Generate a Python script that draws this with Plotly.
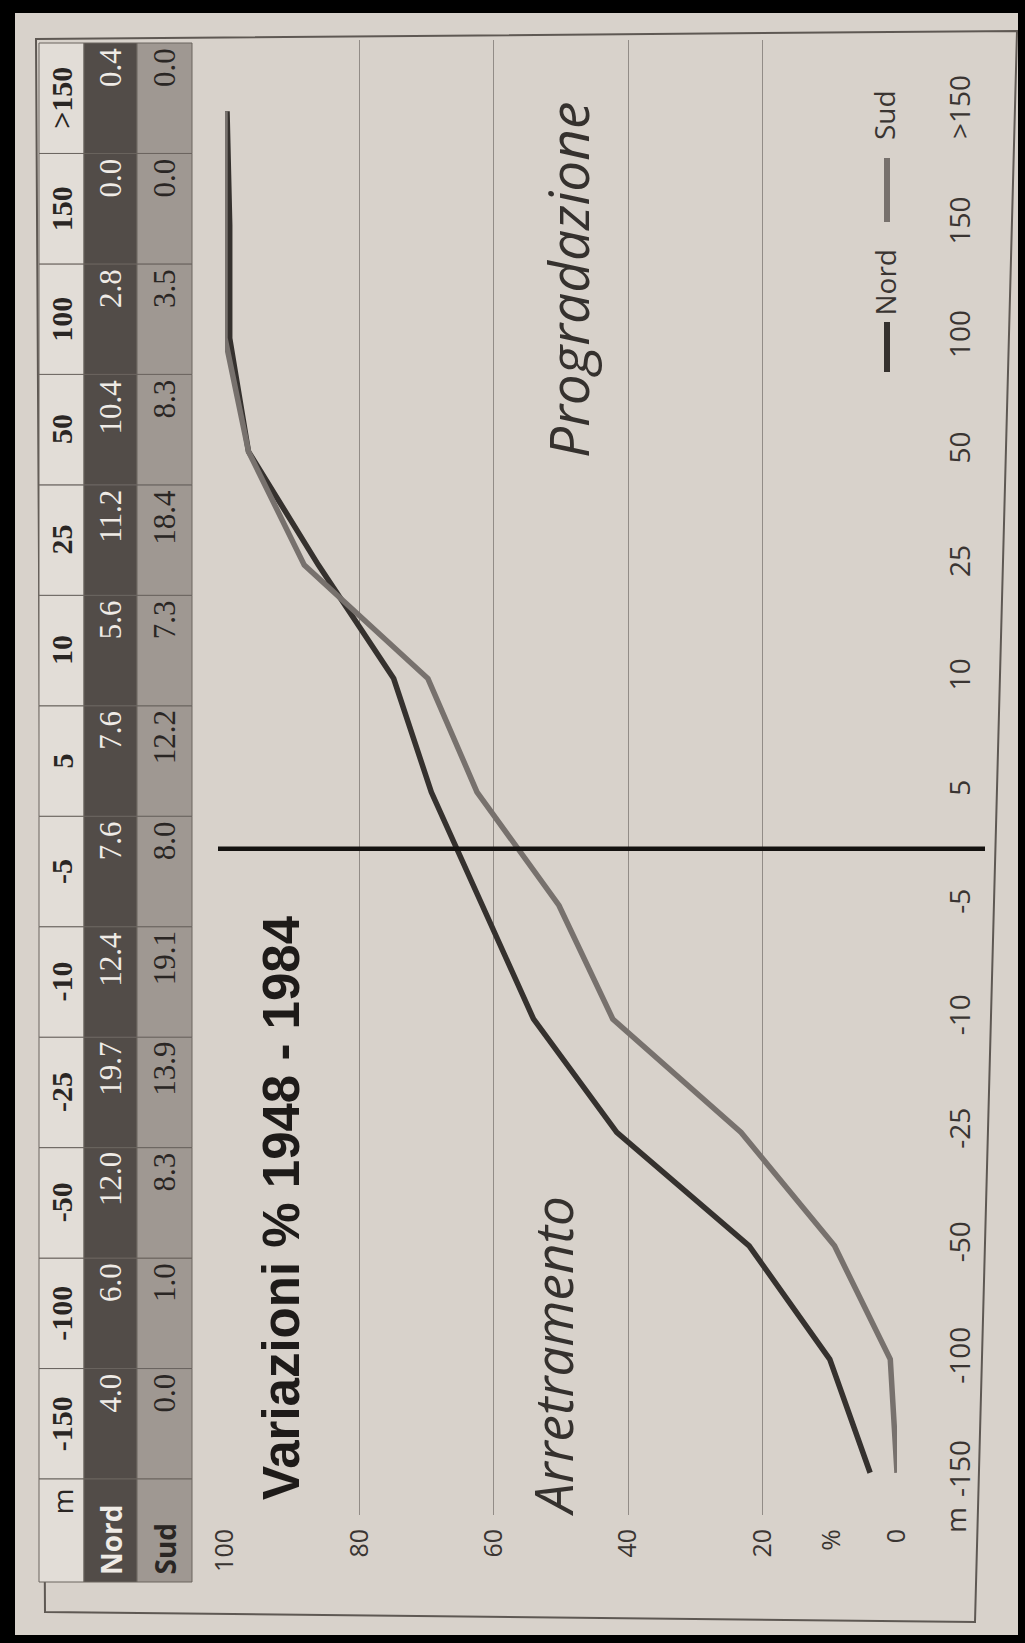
import plotly.graph_objects as go

# ---------------- data ----------------
categories = ["-150", "-100", "-50", "-25", "-10", "-5", "5", "10", "25", "50", "100", "150", ">150"]
nord_pct = [4.0, 6.0, 12.0, 19.7, 12.4, 7.6, 7.6, 5.6, 11.2, 10.4, 2.8, 0.0, 0.4]
sud_pct = [0.0, 1.0, 8.3, 13.9, 19.1, 8.0, 12.2, 7.3, 18.4, 8.3, 3.5, 0.0, 0.0]
nord_cum = [4.0, 10.0, 22.0, 41.7, 54.1, 61.7, 69.3, 74.9, 86.1, 96.5, 99.3, 99.3, 99.7]
sud_cum = [0.0, 1.0, 9.3, 23.2, 42.3, 50.3, 62.5, 69.8, 88.2, 96.5, 100.0, 100.0, 100.0]
value_ticks = [0, 20, 40, 60, 80, 100]
row_labels = ["m", "Nord", "Sud"]
series_names = ["Nord", "Sud"]
title_text = "Variazioni % 1948 - 1984"
left_label = "Arretramento"
right_label = "Progradazione"

# ---------------- geometry helpers (pixels -> paper) ----------------
W, H = 1025, 1643


def px(x):
    return x / W


def py(y):
    return 1 - y / H


PLOT_L, PLOT_R, PLOT_T, PLOT_B = 225, 897, 40, 1515
Y_SHIFT = 0.128  # photo perspective: categories sit a little lower than the grid box

PAPER = "#d8d2cb"
DARK = "#35312e"
GREY = "#77716d"
TXT = "#3a3532"
SANS = "Open Sans, Lato, sans-serif"
SERIF = "Liberation Serif, DejaVu Serif, serif"

fig = go.Figure()
fig.add_trace(go.Scatter(x=nord_cum, y=categories, mode="lines", name=series_names[0],
                         line=dict(color=DARK, width=5.5), showlegend=False))
fig.add_trace(go.Scatter(x=sud_cum, y=categories, mode="lines", name=series_names[1],
                         line=dict(color=GREY, width=5.5), showlegend=False))

shapes = []
annotations = []

# black photo frame
for (x0, x1, y0, y1) in [(0, W, 0, 13), (0, 15, 0, H), (W - 7, W, 0, H), (0, W, H - 8, H)]:
    shapes.append(dict(type="rect", xref="paper", yref="paper", x0=px(x0), x1=px(x1),
                       y0=py(y1), y1=py(y0), fillcolor="black", line=dict(width=0), layer="above"))

# outer chart box (slightly skewed like the photo)
corners = [(36, 39), (1017, 31), (975, 1622), (45, 1612)]
path = "M " + " L ".join(f"{px(x):.5f},{py(y):.5f}" for x, y in corners) + " Z"
shapes.append(dict(type="path", xref="paper", yref="paper", path=path,
                   line=dict(color="#5e5853", width=2), layer="below"))

# ---------------- data table ----------------
rows_x = [(39, 84), (84, 137), (137, 192)]
row_fill = ["#e2ddd7", "#524c48", "#9f9892"]
row_txt = ["#2a2624", "#efebe6", "#2a2624"]
T_TOP, T_VAL_BOT, T_BOT = 43, 1479, 1582
n = len(categories)
cell_h = (T_VAL_BOT - T_TOP) / n
rows_vals = [categories, [f"{v:.1f}" for v in nord_pct], [f"{v:.1f}" for v in sud_pct]]

for r, (x0, x1) in enumerate(rows_x):
    for i in range(n):
        top = T_TOP + (n - 1 - i) * cell_h
        shapes.append(dict(type="rect", xref="paper", yref="paper",
                           x0=px(x0), x1=px(x1), y0=py(top + cell_h), y1=py(top),
                           fillcolor=row_fill[r], line=dict(color="#6a645f", width=1), layer="below"))
        if r == 0:
            annotations.append(dict(xref="paper", yref="paper", x=px((x0 + x1) / 2),
                                    y=py(top + cell_h / 2), text=rows_vals[r][i], showarrow=False,
                                    textangle=-90, xanchor="center", yanchor="middle",
                                    font=dict(family=SERIF, size=30, color=row_txt[r], weight="bold")))
        else:
            annotations.append(dict(xref="paper", yref="paper", x=px((x0 + x1) / 2),
                                    y=py(top + 3), text=rows_vals[r][i], showarrow=False,
                                    textangle=-90, xanchor="center", yanchor="top",
                                    font=dict(family=SERIF, size=31, color=row_txt[r])))
    shapes.append(dict(type="rect", xref="paper", yref="paper",
                       x0=px(x0), x1=px(x1), y0=py(T_BOT), y1=py(T_VAL_BOT),
                       fillcolor=row_fill[r], line=dict(color="#6a645f", width=1), layer="below"))
    if r == 0:
        annotations.append(dict(xref="paper", yref="paper", x=px((x0 + x1) / 2), y=py(T_VAL_BOT + 8),
                                text=row_labels[r], showarrow=False, textangle=-90,
                                xanchor="center", yanchor="top",
                                font=dict(family=SANS, size=28, color=row_txt[r])))
    else:
        annotations.append(dict(xref="paper", yref="paper", x=px((x0 + x1) / 2), y=py(T_BOT - 5),
                                text=row_labels[r], showarrow=False, textangle=-90,
                                xanchor="center", yanchor="bottom",
                                font=dict(family=SANS, size=28, color=row_txt[r], weight="bold")))

# ---------------- zero line between -5 and 5 ----------------
shapes.append(dict(type="line", xref="paper", yref="y", x0=px(218), x1=px(985),
                   y0=5.5, y1=5.5, line=dict(color="#141210", width=4.5), layer="above"))

# ---------------- texts ----------------
annotations.append(dict(xref="paper", yref="paper", x=px(281), y=py(1208), text=title_text,
                        showarrow=False, textangle=-90, xanchor="center", yanchor="middle",
                        font=dict(family="Liberation Sans, Arial, sans-serif", size=51,
                                  color="#1e1b19", weight="bold")))
annotations.append(dict(xref="paper", yref="paper", x=px(552), y=py(1356), text=left_label,
                        showarrow=False, textangle=-90, xanchor="center", yanchor="middle",
                        font=dict(family=SANS, size=53, color="#35312e", style="italic")))
annotations.append(dict(xref="paper", yref="paper", x=px(567), y=py(280), text=right_label,
                        showarrow=False, textangle=-90, xanchor="center", yanchor="middle",
                        font=dict(family=SANS, size=55, color="#35312e", style="italic")))
# axis unit labels
annotations.append(dict(xref="x", yref="paper", x=10, y=py(1540), text="%", showarrow=False,
                        textangle=-90, xanchor="center", yanchor="middle",
                        font=dict(family=SANS, size=26, color=TXT)))
annotations.append(dict(xref="paper", yref="paper", x=px(955), y=py(1520), text="m", showarrow=False,
                        textangle=-90, xanchor="center", yanchor="middle",
                        font=dict(family=SANS, size=28, color=TXT)))

# ---------------- manual legend ----------------
LEG_X = 887
for name, color, (d0, d1), tb in [(series_names[0], DARK, (322, 372), 318),
                                   (series_names[1], GREY, (158, 222), 142)]:
    shapes.append(dict(type="line", xref="paper", yref="paper", x0=px(LEG_X), x1=px(LEG_X),
                       y0=py(d0), y1=py(d1), line=dict(color=color, width=6)))
    annotations.append(dict(xref="paper", yref="paper", x=px(LEG_X - 3), y=py(tb), text=name,
                            showarrow=False, textangle=-90, xanchor="center", yanchor="bottom",
                            font=dict(family=SANS, size=28, color=TXT)))

fig.update_layout(
    width=W, height=H,
    margin=dict(l=0, r=0, t=0, b=0, pad=0, autoexpand=False),
    paper_bgcolor=PAPER, plot_bgcolor="rgba(0,0,0,0)",
    showlegend=False,
    xaxis=dict(domain=[px(PLOT_L), px(PLOT_R)], range=[100, 0], tickvals=value_ticks,
               ticktext=[str(v) for v in value_ticks], tickangle=-90, showgrid=True,
               gridcolor="#928c87", gridwidth=1, zeroline=False, showline=False, ticks="",
               tickfont=dict(family=SANS, size=25, color=TXT), ticklabelstandoff=8,
               anchor="y", side="bottom", fixedrange=True, automargin=False),
    yaxis=dict(type="category", categoryorder="array", categoryarray=categories,
               domain=[py(PLOT_B), py(PLOT_T)], range=[-0.5 + Y_SHIFT, 12.5 + Y_SHIFT], side="right",
               tickangle=-90, showgrid=False, zeroline=False, showline=False, ticks="",
               tickfont=dict(family=SANS, size=28, color=TXT), ticklabelstandoff=44,
               anchor="x", fixedrange=True, automargin=False),
    shapes=shapes,
    annotations=annotations,
)

fig.write_html("out.html", config={"displayModeBar": False},
               post_script="document.body.style.margin='0';")
